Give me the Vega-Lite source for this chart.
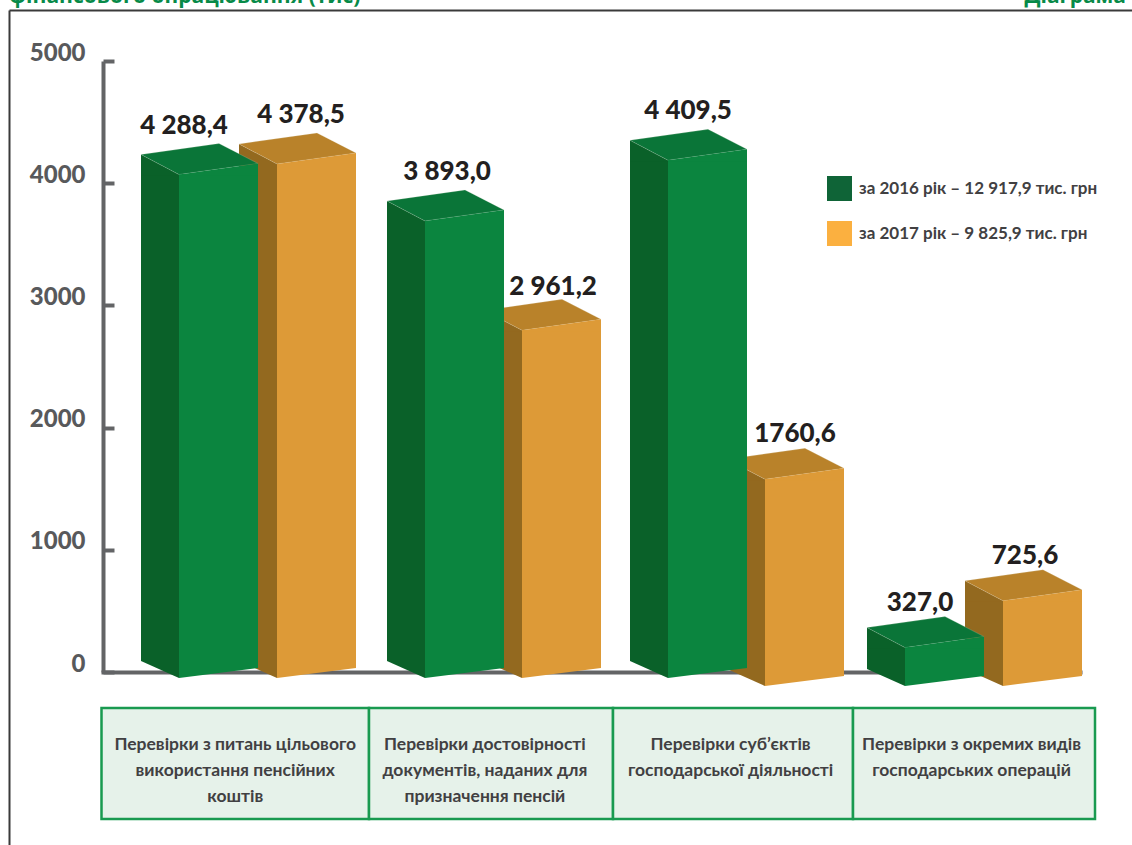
{
"$schema":"https://vega.github.io/schema/vega-lite/v6.json",
"width":1123,"height":835,
"padding":{"left":9,"top":10,"right":0,"bottom":0},
"autosize":{"type":"none"},
"background":"#ffffff",
"view":{"stroke":null},
"config":{"axis":{"grid":false,"title":null},"font":"Lato"},
"datasets":{
"bars":[
{"bar":2,"category":"Перевірки з питань цільового використання пенсійних коштів","series":"2017","value":4378.5,"label":"4 378,5"},
{"bar":4,"category":"Перевірки достовірності документів, наданих для призначення пенсій","series":"2017","value":2961.2,"label":"2 961,2"},
{"bar":6,"category":"Перевірки суб’єктів господарської діяльності","series":"2017","value":1760.6,"label":"1760,6"},
{"bar":8,"category":"Перевірки з окремих видів господарських операцій","series":"2017","value":725.6,"label":"725,6"},
{"bar":1,"category":"Перевірки з питань цільового використання пенсійних коштів","series":"2016","value":4288.4,"label":"4 288,4"},
{"bar":3,"category":"Перевірки достовірності документів, наданих для призначення пенсій","series":"2016","value":3893.0,"label":"3 893,0"},
{"bar":5,"category":"Перевірки суб’єктів господарської діяльності","series":"2016","value":4409.5,"label":"4 409,5"},
{"bar":7,"category":"Перевірки з окремих видів господарських операцій","series":"2016","value":327.0,"label":"327,0"}
],
"cells":[
{"from":0,"to":1,"center":0.5,"text":"Перевірки з питань цільового\nвикористання пенсійних\nкоштів"},
{"from":1,"to":2,"center":1.475,"text":"Перевірки достовірності\nдокументів, наданих для\nпризначення пенсій"},
{"from":2,"to":3,"center":2.49,"text":"Перевірки суб’єктів\nгосподарської діяльності"},
{"from":3,"to":4,"center":3.49,"text":"Перевірки з окремих видів\nгосподарських операцій"}
],
"headings":[
{"side":"left","text":"фінансового опрацювання (тис)"},
{"side":"right","text":"Діаграма"}
],
"legendRows":[
{"entry":"за 2016 рік  –  12 917,9 тис. грн"},
{"entry":"за 2017 рік  –   9 825,9 тис. грн"}
]
},
"resolve":{"scale":{"x":"independent","y":"independent","color":"independent"},"axis":{"x":"independent","y":"independent"}},
"layer":[
{
"data":{"name":"headings"},
"layer":[
{"transform":[{"filter":"datum.side=='left'"}],
"mark":{"type":"text","align":"left","baseline":"alphabetic","font":"Open Sans","fontWeight":"bold","fontSize":21,"fill":"#078a48","dy":-7,"clip":false},
"encoding":{
"text":{"field":"text"},
"x":{"datum":0,"type":"quantitative","scale":{"domain":[0,1],"range":[0,1123]},"axis":{"orient":"top","domain":true,"domainColor":"#3a3a3a","domainWidth":2,"ticks":false,"labels":false,"title":null}},
"y":{"datum":1,"type":"quantitative","scale":{"domain":[0,1],"range":[835,0]},"axis":{"orient":"left","domain":true,"domainColor":"#3a3a3a","domainWidth":2,"ticks":false,"labels":false,"title":null}}
}},
{"transform":[{"filter":"datum.side=='right'"}],
"mark":{"type":"text","align":"right","baseline":"alphabetic","font":"Open Sans","fontWeight":"bold","fontSize":21,"fill":"#078a48","dy":-7,"clip":false},
"encoding":{
"text":{"field":"text"},
"x":{"datum":0.9947,"type":"quantitative","scale":{"domain":[0,1],"range":[0,1123]}},
"y":{"datum":1,"type":"quantitative","scale":{"domain":[0,1],"range":[835,0]}}
}}
]
},
{
"data":{"name":"bars"},
"mark":{"type":"point","opacity":0},
"encoding":{
"x":{"datum":0,"type":"quantitative","scale":{"domain":[0,1],"range":[92,1073]},"axis":{"orient":"bottom","offset":-173,"domain":true,"domainColor":"#636466","domainWidth":4,"ticks":false,"labels":false,"title":null}},
"y":{"field":"value","type":"quantitative","scale":{"domain":[0,5000],"range":[662,51],"nice":false,"zero":false},
"axis":{"orient":"left","offset":-94,"values":[0,1000,2000,3000,4000,5000],"domain":true,"domainColor":"#636466","domainWidth":4,"ticks":true,"tickColor":"#636466","tickWidth":4,"tickSize":-11,"labelPadding":29,"labelOffset":-8,"labelFont":"Lato","labelFontWeight":900,"labelFontSize":24,"labelColor":"#58595b","format":"d","title":null}}
}
},
{
"data":{"name":"bars"},
"transform":[{"filter":{"field":"bar","oneOf":[6,7,8]}}],
"encoding":{
"x":{"field":"bar","type":"quantitative","scale":{"domain":[1,2,3,4,5,6,7,8],"range":[170,268,416,513,659,756,896,994],"padding":0,"nice":false,"zero":false},"axis":null},
"y":{"field":"value","type":"quantitative","scale":{"domain":[0,5000],"range":[676,89],"nice":false,"zero":false},"axis":null}
},
"layer":[
{"mark":{"type":"bar","width":38,"xOffset":-19,"y2Offset":-17},
"encoding":{"y2":{"datum":0},"fill":{"condition":{"test":"datum.series=='2017'","value":"#93691f"},"value":"#0a6129"}}},
{"mark":{"type":"point","filled":true,"opacity":1,"size":4,"strokeWidth":0,"shape":"M-38,-20 L0,0 L0,1 L-38,1 Z"},
"encoding":{"fill":{"condition":{"test":"datum.series=='2017'","value":"#93691f"},"value":"#0a6129"}}},
{"mark":{"type":"point","filled":true,"opacity":1,"size":4,"strokeWidth":0,"shape":"M-38,-18 L0,-18 L0,0 L-38,-17 Z"},
"encoding":{"y":{"datum":0,"type":"quantitative","scale":{"domain":[0,5000],"range":[676,89],"nice":false,"zero":false},"axis":null},"fill":{"condition":{"test":"datum.series=='2017'","value":"#93691f"},"value":"#0a6129"}}},
{"mark":{"type":"point","filled":true,"opacity":1,"size":4,"strokeWidth":0.5,"stroke":"#e8e8d8","strokeOpacity":0.4,"shape":"M-38,-20 L40,-31 L79,-11 L0,0 Z"},
"encoding":{"fill":{"condition":{"test":"datum.series=='2017'","value":"#b9822a"},"value":"#0a7538"}}},
{"mark":{"type":"bar","width":79,"xOffset":39.5,"y2Offset":-10},
"encoding":{"y2":{"datum":0},"fill":{"condition":{"test":"datum.series=='2017'","value":"#dd9a37"},"value":"#0b853f"}}},
{"mark":{"type":"point","filled":true,"opacity":1,"size":4,"strokeWidth":0,"shape":"M0,0 L79,-11 L79,1 L0,1 Z"},
"encoding":{"fill":{"condition":{"test":"datum.series=='2017'","value":"#dd9a37"},"value":"#0b853f"}}},
{"mark":{"type":"point","filled":true,"opacity":1,"size":4,"strokeWidth":0,"shape":"M0,-11 L79,-11 L79,-10 L0,0 Z"},
"encoding":{"y":{"datum":0,"type":"quantitative","scale":{"domain":[0,5000],"range":[676,89],"nice":false,"zero":false},"axis":null},"fill":{"condition":{"test":"datum.series=='2017'","value":"#dd9a37"},"value":"#0b853f"}}}
]
},
{
"data":{"name":"bars"},
"transform":[{"filter":{"field":"bar","oneOf":[1,2,3,4,5]}}],
"encoding":{
"x":{"field":"bar","type":"quantitative","scale":{"domain":[1,2,3,4,5,6,7,8],"range":[170,268,416,513,659,756,896,994],"padding":0,"nice":false,"zero":false},"axis":null},
"y":{"field":"value","type":"quantitative","scale":{"domain":[0,5000],"range":[668,81],"nice":false,"zero":false},"axis":null}
},
"layer":[
{"mark":{"type":"bar","width":38,"xOffset":-19,"y2Offset":-17},
"encoding":{"y2":{"datum":0},"fill":{"condition":{"test":"datum.series=='2017'","value":"#93691f"},"value":"#0a6129"}}},
{"mark":{"type":"point","filled":true,"opacity":1,"size":4,"strokeWidth":0,"shape":"M-38,-20 L0,0 L0,1 L-38,1 Z"},
"encoding":{"fill":{"condition":{"test":"datum.series=='2017'","value":"#93691f"},"value":"#0a6129"}}},
{"mark":{"type":"point","filled":true,"opacity":1,"size":4,"strokeWidth":0,"shape":"M-38,-18 L0,-18 L0,0 L-38,-17 Z"},
"encoding":{"y":{"datum":0,"type":"quantitative","scale":{"domain":[0,5000],"range":[668,81],"nice":false,"zero":false},"axis":null},"fill":{"condition":{"test":"datum.series=='2017'","value":"#93691f"},"value":"#0a6129"}}},
{"mark":{"type":"point","filled":true,"opacity":1,"size":4,"strokeWidth":0.5,"stroke":"#e8e8d8","strokeOpacity":0.4,"shape":"M-38,-20 L40,-31 L79,-11 L0,0 Z"},
"encoding":{"fill":{"condition":{"test":"datum.series=='2017'","value":"#b9822a"},"value":"#0a7538"}}},
{"mark":{"type":"bar","width":79,"xOffset":39.5,"y2Offset":-10},
"encoding":{"y2":{"datum":0},"fill":{"condition":{"test":"datum.series=='2017'","value":"#dd9a37"},"value":"#0b853f"}}},
{"mark":{"type":"point","filled":true,"opacity":1,"size":4,"strokeWidth":0,"shape":"M0,0 L79,-11 L79,1 L0,1 Z"},
"encoding":{"fill":{"condition":{"test":"datum.series=='2017'","value":"#dd9a37"},"value":"#0b853f"}}},
{"mark":{"type":"point","filled":true,"opacity":1,"size":4,"strokeWidth":0,"shape":"M0,-11 L79,-11 L79,-10 L0,0 Z"},
"encoding":{"y":{"datum":0,"type":"quantitative","scale":{"domain":[0,5000],"range":[668,81],"nice":false,"zero":false},"axis":null},"fill":{"condition":{"test":"datum.series=='2017'","value":"#dd9a37"},"value":"#0b853f"}}}
]
},
{
"data":{"name":"bars"},
"encoding":{
"text":{"field":"label"},
"x":{"field":"bar","type":"quantitative","scale":{"domain":[1,2,3,4,5,6,7,8],"range":[175,292,438,544,679,786,911,1016],"nice":false,"zero":false},"axis":null},
"y":{"field":"value","type":"quantitative","scale":{"domain":[0,5000],"range":[669,82],"nice":false,"zero":false},"axis":null}
},
"layer":[
{"transform":[{"filter":{"field":"bar","oneOf":[1,2,3,5]}}],
"mark":{"type":"text","font":"Lato","fontWeight":900,"fontSize":26,"fill":"#231f20","baseline":"middle","align":"center","dy":-50}},
{"transform":[{"filter":{"field":"bar","oneOf":[4]}}],
"mark":{"type":"text","font":"Lato","fontWeight":900,"fontSize":26,"fill":"#231f20","baseline":"middle","align":"center","dy":-44}},
{"transform":[{"filter":{"field":"bar","oneOf":[6,7,8]}}],
"mark":{"type":"text","font":"Lato","fontWeight":900,"fontSize":26,"fill":"#231f20","baseline":"middle","align":"center","dy":-38}}
]
},
{
"data":{"name":"legendRows"},
"mark":{"type":"point","filled":true,"size":0,"opacity":1},
"encoding":{
"color":{"field":"entry","type":"nominal","scale":{"domain":["за 2016 рік  –  12 917,9 тис. грн","за 2017 рік  –   9 825,9 тис. грн"],"range":["#0f6437","#fbb040"]},
"legend":{"orient":"none","legendX":818,"legendY":166,"title":null,"padding":0,"symbolType":"square","symbolSize":625,"symbolOpacity":1,"symbolStrokeWidth":0,"rowPadding":20,"labelOffset":7,"labelFont":"Lato","labelFontWeight":"bold","labelFontSize":17,"labelColor":"#414042","labelLimit":300}}
}
},
{
"data":{"name":"cells"},
"layer":[
{"mark":{"type":"bar","fill":"#e6f2ea","stroke":"#199a50","strokeWidth":2.5},
"encoding":{
"x":{"field":"from","type":"quantitative","scale":{"domain":[0,1,2,3,4],"range":[92.5,360,604,844,1086],"padding":0,"nice":false,"zero":false},"axis":null},
"x2":{"field":"to"},
"y":{"datum":1,"type":"quantitative","scale":{"domain":[0,1],"range":[809,698]},"axis":null},
"y2":{"datum":0}
}},
{"mark":{"type":"text","font":"Lato","fontWeight":"bold","fontSize":17.5,"fill":"#414042","align":"center","baseline":"top","lineBreak":"\n","lineHeight":26,"dy":28},
"encoding":{
"text":{"field":"text"},
"x":{"field":"center","type":"quantitative","scale":{"domain":[0,1,2,3,4],"range":[92.5,360,604,844,1086],"padding":0,"nice":false,"zero":false},"axis":null},
"y":{"datum":1,"type":"quantitative","scale":{"domain":[0,1],"range":[809,698]},"axis":null}
}}
]
}
]
}
